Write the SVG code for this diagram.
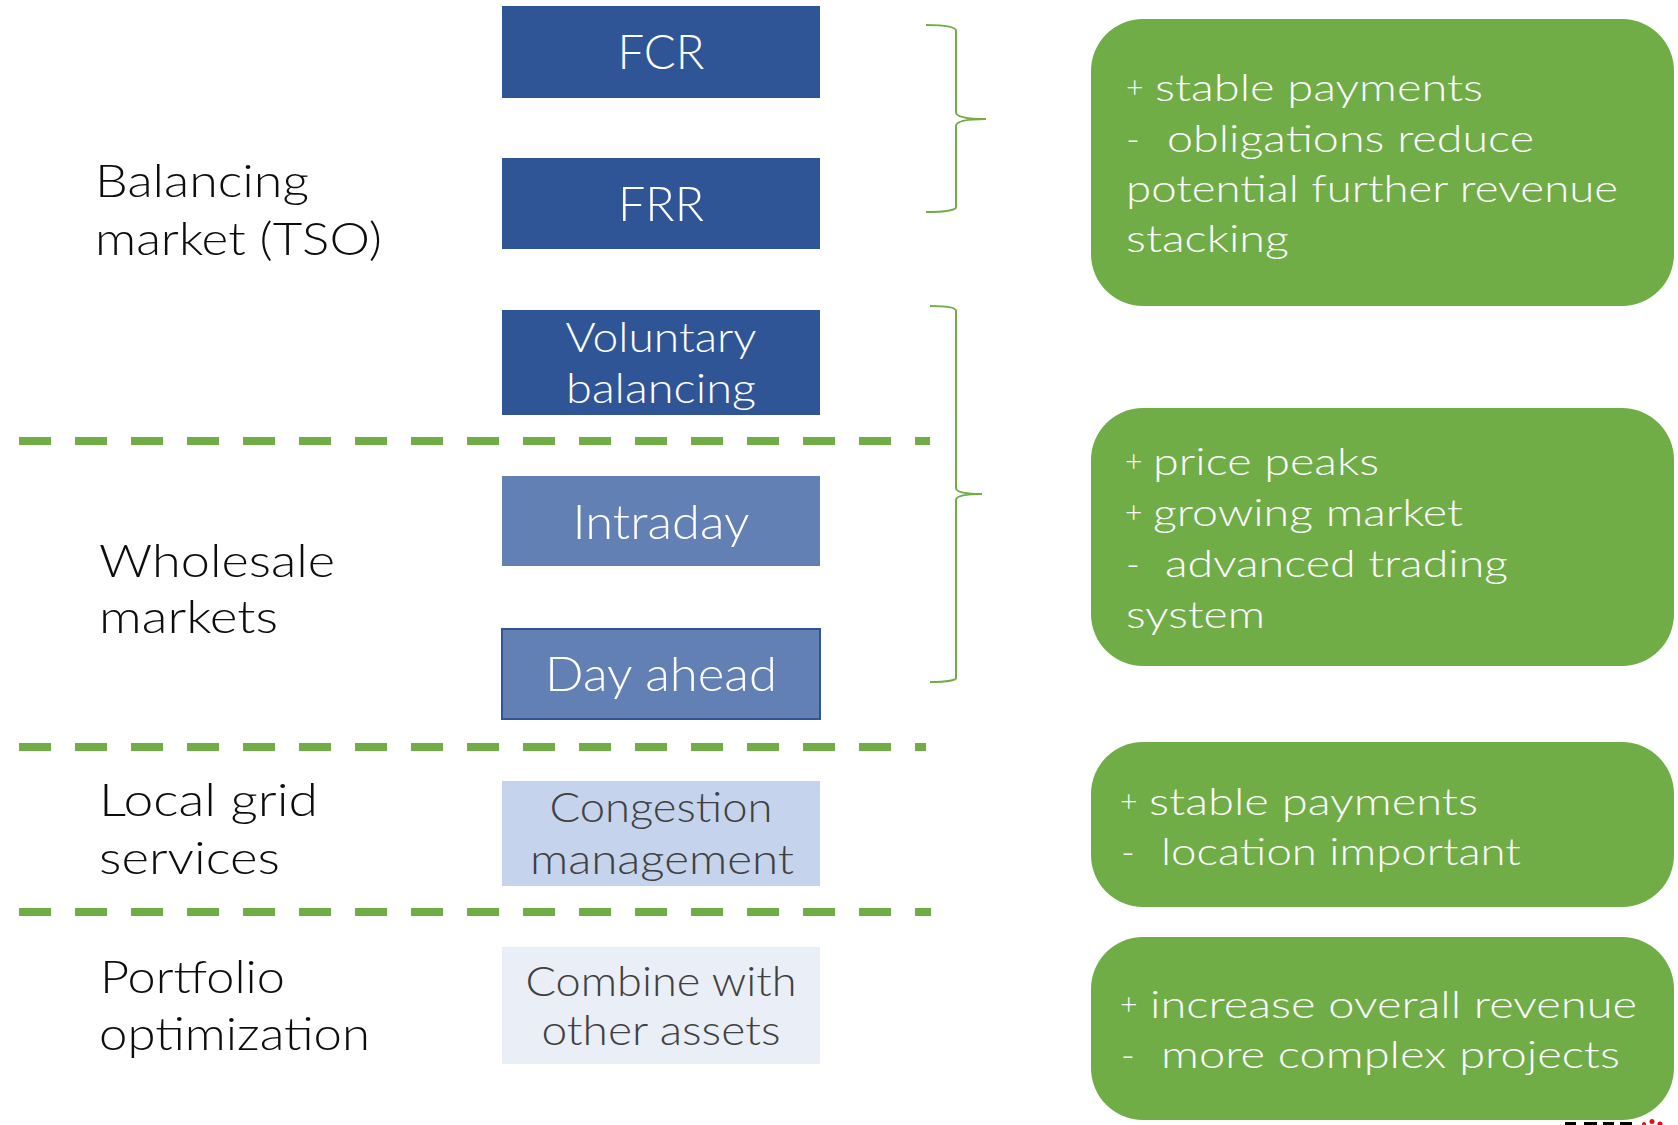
<svg xmlns="http://www.w3.org/2000/svg" width="1678" height="1125" viewBox="0 0 1678 1125">
  <style>
    text { font-family: Lato, "Open Sans", "Liberation Sans", sans-serif; font-weight: 300; }
    .lbl { font-size: 46px; fill: #0d0d0d; }
    .bx1 { font-size: 48px; text-anchor: middle; }
    .bx2 { font-size: 42px; text-anchor: middle; }
    .wt { fill: #ffffff; }
    .gt { fill: #404040; }
    .dark { fill: #2F5597; }
    .mid { fill: #6380B4; }
    .light { fill: #C5D3EC; }
    .pale { fill: #E9EEF7; }
    .card { fill: #70AD47; }
    .pro { font-size: 37px; fill: #ffffff; }
    .sign { font-size: 30px; fill: #ffffff; }
    .sep { stroke: #70AD47; stroke-width: 8; stroke-dasharray: 32 24; fill: none; }
    .brace { stroke: #70AD47; stroke-width: 2; fill: none; }
  </style>

  <!-- market category labels -->
  <g id="label-balancing">
    <text class="lbl" x="95" y="197" textLength="214" lengthAdjust="spacingAndGlyphs">Balancing</text>
    <text class="lbl" x="95" y="255" textLength="287" lengthAdjust="spacingAndGlyphs">market (TSO)</text>
  </g>
  <g id="label-wholesale">
    <text class="lbl" x="99" y="577" textLength="236" lengthAdjust="spacingAndGlyphs">Wholesale</text>
    <text class="lbl" x="99" y="633" textLength="179" lengthAdjust="spacingAndGlyphs">markets</text>
  </g>
  <g id="label-local">
    <text class="lbl" x="99" y="816" textLength="219" lengthAdjust="spacingAndGlyphs">Local grid</text>
    <text class="lbl" x="99" y="874" textLength="181" lengthAdjust="spacingAndGlyphs">services</text>
  </g>
  <g id="label-portfolio">
    <text class="lbl" x="100" y="993" textLength="185" lengthAdjust="spacingAndGlyphs">Portfolio</text>
    <text class="lbl" x="99" y="1050" textLength="271" lengthAdjust="spacingAndGlyphs">optimization</text>
  </g>

  <!-- product boxes -->
  <g id="fcr">
    <rect class="dark" x="502" y="6" width="318" height="92"/>
    <text class="bx1 wt" x="661" y="69" textLength="87" lengthAdjust="spacingAndGlyphs">FCR</text>
  </g>
  <g id="frr">
    <rect class="dark" x="502" y="158" width="318" height="91"/>
    <text class="bx1 wt" x="661" y="221" textLength="86" lengthAdjust="spacingAndGlyphs">FRR</text>
  </g>
  <g id="voluntary">
    <rect class="dark" x="502" y="310" width="318" height="105"/>
    <text class="bx2 wt" x="661" y="352" textLength="191" lengthAdjust="spacingAndGlyphs">Voluntary</text>
    <text class="bx2 wt" x="661" y="403" textLength="190" lengthAdjust="spacingAndGlyphs">balancing</text>
  </g>
  <g id="intraday">
    <rect class="mid" x="502" y="476" width="318" height="90"/>
    <text class="bx1 wt" x="661" y="539" textLength="177" lengthAdjust="spacingAndGlyphs">Intraday</text>
  </g>
  <g id="day-ahead">
    <rect class="mid" x="502" y="629" width="318" height="90" stroke="#2F5597" stroke-width="2"/>
    <text class="bx1 wt" x="661" y="691" textLength="232" lengthAdjust="spacingAndGlyphs">Day ahead</text>
  </g>
  <g id="congestion">
    <rect class="light" x="502" y="781" width="318" height="105"/>
    <text class="bx2 gt" x="661" y="822" textLength="223" lengthAdjust="spacingAndGlyphs">Congestion</text>
    <text class="bx2 gt" x="662" y="874" textLength="264" lengthAdjust="spacingAndGlyphs">management</text>
  </g>
  <g id="combine">
    <rect class="pale" x="502" y="947" width="318" height="117"/>
    <text class="bx2 gt" x="661" y="996" textLength="271" lengthAdjust="spacingAndGlyphs">Combine with</text>
    <text class="bx2 gt" x="661" y="1045" textLength="239" lengthAdjust="spacingAndGlyphs">other assets</text>
  </g>

  <!-- pros / cons cards -->
  <g id="card-balancing">
    <rect class="card" x="1091" y="19" width="583" height="287" rx="52" ry="52"/>
    <text class="sign" x="1126" y="98">+</text>
    <text class="pro" x="1155" y="101" textLength="328" lengthAdjust="spacingAndGlyphs">stable payments</text>
    <text class="pro" x="1126" y="152">-</text>
    <text class="pro" x="1167" y="152" textLength="367" lengthAdjust="spacingAndGlyphs">obligations reduce</text>
    <text class="pro" x="1126" y="202" textLength="492" lengthAdjust="spacingAndGlyphs">potential further revenue</text>
    <text class="pro" x="1126" y="252" textLength="163" lengthAdjust="spacingAndGlyphs">stacking</text>
  </g>
  <g id="card-wholesale">
    <rect class="card" x="1091" y="408" width="583" height="258" rx="52" ry="52"/>
    <text class="sign" x="1125" y="472">+</text>
    <text class="pro" x="1153" y="475" textLength="226" lengthAdjust="spacingAndGlyphs">price peaks</text>
    <text class="sign" x="1125" y="523">+</text>
    <text class="pro" x="1153" y="526" textLength="310" lengthAdjust="spacingAndGlyphs">growing market</text>
    <text class="pro" x="1126" y="577">-</text>
    <text class="pro" x="1165" y="577" textLength="343" lengthAdjust="spacingAndGlyphs">advanced trading</text>
    <text class="pro" x="1126" y="628" textLength="139" lengthAdjust="spacingAndGlyphs">system</text>
  </g>
  <g id="card-local">
    <rect class="card" x="1091" y="742" width="583" height="165" rx="52" ry="52"/>
    <text class="sign" x="1120" y="812">+</text>
    <text class="pro" x="1149" y="815" textLength="329" lengthAdjust="spacingAndGlyphs">stable payments</text>
    <text class="pro" x="1121" y="865">-</text>
    <text class="pro" x="1161" y="865" textLength="360" lengthAdjust="spacingAndGlyphs">location important</text>
  </g>
  <g id="card-portfolio">
    <rect class="card" x="1091" y="937" width="583" height="183" rx="52" ry="52"/>
    <text class="sign" x="1120" y="1015">+</text>
    <text class="pro" x="1150" y="1018" textLength="487" lengthAdjust="spacingAndGlyphs">increase overall revenue</text>
    <text class="pro" x="1121" y="1068">-</text>
    <text class="pro" x="1161" y="1068" textLength="459" lengthAdjust="spacingAndGlyphs">more complex projects</text>
  </g>

  <!-- separators and braces -->
  <g id="connectors">
    <line class="sep" x1="19" y1="441" x2="930" y2="441"/>
    <line class="sep" x1="19" y1="747" x2="926" y2="747"/>
    <line class="sep" x1="19" y1="912" x2="931" y2="912"/>
    <path class="brace" d="M926,25 C946,25 956,27 956,31 L956,112 C956,116 964,119 986,119 C964,119 956,122 956,126 L956,207 C956,210 946,212 926,212"/>
    <path class="brace" d="M930,306 C948,306 956,308 956,311 L956,488 C956,492 963,494 982,494 C963,494 956,496 956,500 L956,678 C956,680 948,682 930,682"/>
  </g>

  <!-- clipped logo fragment at the lower edge -->
  <g id="logo-fragment">
    <rect x="1565" y="1122" width="11" height="3" fill="#000"/>
    <rect x="1584" y="1122" width="13" height="3" fill="#000"/>
    <rect x="1603" y="1122" width="11" height="3" fill="#000"/>
    <rect x="1620" y="1122" width="12" height="3" fill="#000"/>
    <circle cx="1644" cy="1124" r="2" fill="#e3120b"/>
    <circle cx="1652" cy="1121.5" r="2.5" fill="#e3120b"/>
    <circle cx="1660" cy="1124" r="2.5" fill="#e3120b"/>
  </g>
</svg>
